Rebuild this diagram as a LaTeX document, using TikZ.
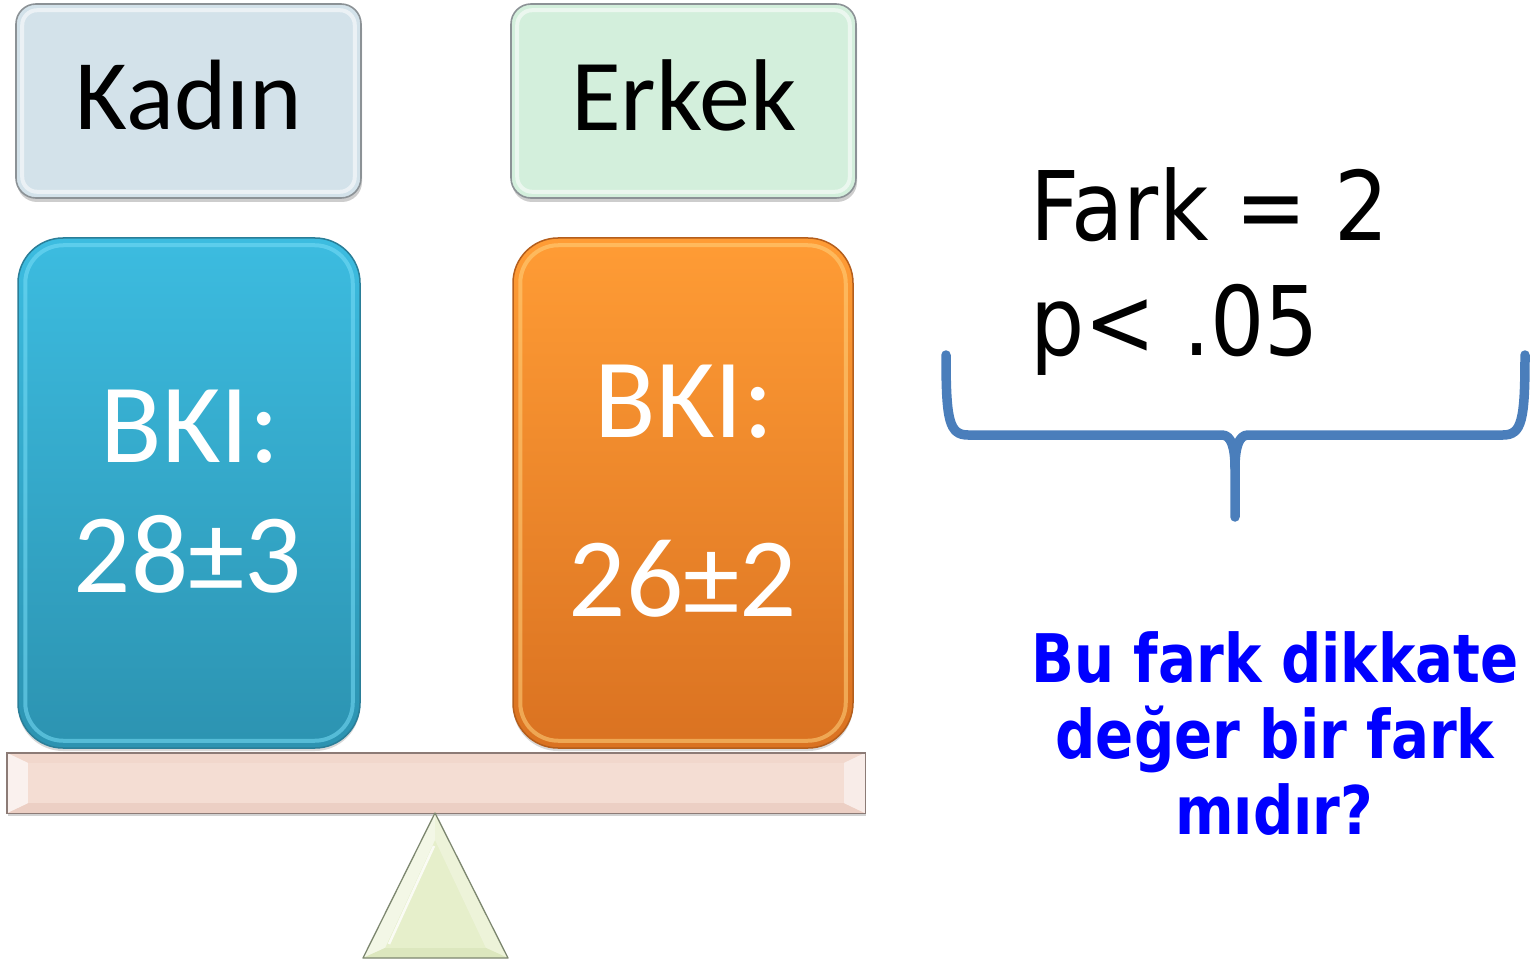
\documentclass[tikz,border=0pt]{standalone}
\usepackage{fontspec}
\setmainfont{Carlito}
\newfontfamily\statfont[FakeStretch=0.89]{DejaVu Sans}
\newfontfamily\askfont[FakeStretch=0.84]{DejaVu Sans}
\usetikzlibrary{shadows}

\definecolor{kadinFill}{HTML}{D3E2EA}
\definecolor{erkekFill}{HTML}{D3EFDC}
\definecolor{labelEdge}{HTML}{8C9296}
\definecolor{blueTop}{HTML}{3CBCE0}
\definecolor{blueBot}{HTML}{2C93B1}
\definecolor{blueEdge}{HTML}{2A7E98}
\definecolor{blueHi}{HTML}{78DDF7}
\definecolor{orangeTop}{HTML}{FF9C35}
\definecolor{orangeBot}{HTML}{DA7221}
\definecolor{orangeEdge}{HTML}{B45E1C}
\definecolor{orangeHi}{HTML}{FFD27E}
\definecolor{beamFill}{HTML}{F4DDD3}
\definecolor{beamTop}{HTML}{F1D7CC}
\definecolor{beamBot}{HTML}{ECCFC4}
\definecolor{beamEnd}{HTML}{FAF1EE}
\definecolor{beamEdge}{HTML}{8C7B76}
\definecolor{pivotFill}{HTML}{E6EFCB}
\definecolor{pivotLight}{HTML}{F3F7E6}
\definecolor{pivotMid}{HTML}{EDF3D9}
\definecolor{pivotDark}{HTML}{DCE7BE}
\definecolor{pivotEdge}{HTML}{7D8770}
\definecolor{braceBlue}{HTML}{4A7EBB}
\definecolor{askBlue}{RGB}{0,0,255}

\begin{document}
\begin{tikzpicture}[x=1pt,y=-1pt,
  labelbox/.style={rounded corners=20pt, draw=labelEdge, line width=1.6pt,
    minimum width=345pt, minimum height=194pt, inner sep=0pt,
    drop shadow={shadow xshift=1pt, shadow yshift=-4pt, opacity=0.28, fill=black!70}},
  bigbox/.style={rounded corners=45pt, line width=1.5pt,
    minimum width=342pt, minimum height=510pt, inner sep=0pt,
    drop shadow={shadow xshift=0pt, shadow yshift=-3pt, opacity=0.22, fill=black!70}},
  bevelline/.style={line width=4pt, opacity=0.55},
  toptext/.style={inner sep=0pt, anchor=base, text=black,
    font=\fontsize{100}{100}\selectfont},
  bkitext/.style={inner sep=0pt, anchor=base, text=white,
    font=\fontsize{113}{113}\selectfont},
  stattext/.style={inner sep=0pt, anchor=base west, text=black,
    font=\statfont\fontsize{96}{96}\selectfont},
  asktext/.style={inner sep=0pt, anchor=base, text=askBlue,
    font=\askfont\bfseries\fontsize{67}{67}\selectfont},
  bracepath/.style={draw=braceBlue, line width=9.5pt, line cap=round, line join=round}
]
\useasboundingbox (0,0) rectangle (1535,960);

% group labels
\node[labelbox, fill=kadinFill] (kadin) at (188.5,101) {};
\node[labelbox, fill=erkekFill] (erkek) at (683.5,101) {};
\foreach \b in {kadin,erkek}{
  \draw[bevelline, white, rounded corners=15pt]
    ([shift={(7,7)}]\b.north west) rectangle ([shift={(-7,-7)}]\b.south east);
}
\node[toptext] (kadintxt) at (189,130) {Kadın};
\node[toptext, font=\fontsize{102}{102}\selectfont] (erkektxt) at (684,131) {Erkek};

% BMI blocks
\node[bigbox, top color=blueTop, bottom color=blueBot, draw=blueEdge] (kbmi) at (189,493) {};
\node[bigbox, top color=orangeTop, bottom color=orangeBot, draw=orangeEdge,
      minimum width=340pt] (ebmi) at (683,493) {};
\draw[bevelline, blueHi, rounded corners=38pt]
  ([shift={(8,8)}]kbmi.north west) rectangle ([shift={(-8,-8)}]kbmi.south east);
\draw[bevelline, orangeHi, rounded corners=38pt]
  ([shift={(8,8)}]ebmi.north west) rectangle ([shift={(-8,-8)}]ebmi.south east);
\node[bkitext] (kbki) at (190,462) {BKI:};
\node[bkitext] (kval) at (188,592) {28±3};
\node[bkitext] (ebki) at (684,437) {BKI:};
\node[bkitext] (eval) at (683,616) {26±2};

% balance beam
\node[minimum width=858pt, minimum height=60pt, inner sep=0pt, fill=beamFill,
      drop shadow={shadow xshift=1pt, shadow yshift=-3pt, opacity=0.25, fill=black!70}]
      (beam) at (436,783) {};
\fill[beamTop] (beam.north west) -- (beam.north east) -- ++(-21,10)
  -- ([shift={(21,10)}]beam.north west) -- cycle;
\fill[beamBot] (beam.south west) -- (beam.south east) -- ++(-21,-10)
  -- ([shift={(21,-10)}]beam.south west) -- cycle;
\fill[beamEnd] (beam.north west) -- ++(21,10)
  -- ([shift={(21,-10)}]beam.south west) -- (beam.south west) -- cycle;
\fill[beamEnd!85!beamBot] (beam.north east) -- ++(-21,10)
  -- ([shift={(-21,-10)}]beam.south east) -- (beam.south east) -- cycle;
\draw[beamEdge, line width=1.4pt] (beam.north west) rectangle (beam.south east);

% pivot
\coordinate (apex) at (435,813);
\coordinate (bl) at (363,958);
\coordinate (br) at (508,958);
\coordinate (iapex) at (435,840);
\coordinate (ibl) at (385,948);
\coordinate (ibr) at (486,948);
\fill[pivotFill] (apex) -- (bl) -- (br) -- cycle;
\fill[pivotLight] (apex) -- (bl) -- (ibl) -- (iapex) -- cycle;
\fill[pivotMid] (apex) -- (br) -- (ibr) -- (iapex) -- cycle;
\fill[pivotDark] (bl) -- (br) -- (ibr) -- (ibl) -- cycle;
\draw[white, line width=2.5pt, opacity=0.8] ([shift={(-1,6)}]iapex) -- ([shift={(4,-4)}]ibl);
\draw[pivotEdge, line width=1.3pt, line join=round] (apex) -- (bl) -- (br) -- cycle;

% statistics
\node[stattext] (fark) at (1030,241) {Fark = 2};
\node[stattext] (pval) at (1030,355) {p< .05};

% curly brace under the statistics
\draw[bracepath] (946,355) .. controls (946,420) and (949,435) .. (968,435)
  -- (1222,435) .. controls (1231,435) and (1235,447) .. (1235,468) -- (1235,517);
\draw[bracepath] (1525,355) .. controls (1525,420) and (1522,435) .. (1503,435)
  -- (1248,435) .. controls (1239,435) and (1235,447) .. (1235,468);

% question
\node[asktext] (q1) at (1275,682) {Bu fark dikkate};
\node[asktext] (q2) at (1275,758) {değer bir fark};
\node[asktext] (q3) at (1274,834) {mıdır?};
\end{tikzpicture}
\end{document}
